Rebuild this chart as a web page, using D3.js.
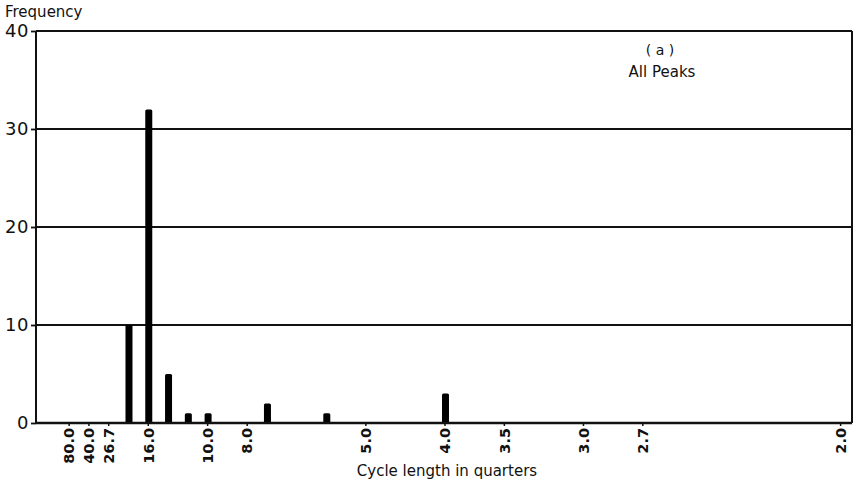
<!DOCTYPE html>
<html>
<head>
<meta charset="utf-8">
<script src="https://cdn.jsdelivr.net/npm/d3@7"></script>
<style>
  html, body { margin: 0; padding: 0; background: #fff; }
  svg { display: block; }
  text { fill: #111; }
</style>
</head>
<body>
<svg id="chart" width="859" height="487"></svg>
<script>
// Spectrum of cycle lengths over an 80-quarter sample: harmonic k => cycle of 80/k quarters
const samplePeriod = 80;
const harmonics = [4, 5, 6, 7, 8, 11, 14, 20];
const frequencies = [10, 32, 5, 1, 1, 2, 1, 3];

const tickHarmonics = [1, 2, 3, 5, 8, 10, 16, 20, 23, 27, 30, 40];
const tickLabels = ["80.0", "40.0", "26.7", "16.0", "10.0", "8.0", "5.0", "4.0", "3.5", "3.0", "2.7", "2.0"];
const yTicks = [0, 10, 20, 30, 40];

const svg = d3.select("#chart");
const plotLeft = 36, plotRight = 852, plotTop = 31, plotBottom = 423;

const x = d3.scaleLinear().domain([-0.65, 40.6]).range([plotLeft, plotRight]);
const y = d3.scaleLinear().domain([0, 40]).range([plotBottom, plotTop]);

// horizontal grid lines (the one at 40 closes the frame)
svg.append("g")
  .selectAll("line")
  .data(yTicks.filter(d => d > 0))
  .join("line")
  .attr("x1", plotLeft).attr("x2", plotRight)
  .attr("y1", d => y(d)).attr("y2", d => y(d))
  .attr("stroke", "#111").attr("stroke-width", 1.8);

// frame sides
svg.append("line").attr("x1", plotLeft).attr("x2", plotLeft).attr("y1", plotTop).attr("y2", plotBottom)
  .attr("stroke", "#111").attr("stroke-width", 2);
svg.append("line").attr("x1", plotRight).attr("x2", plotRight).attr("y1", plotTop).attr("y2", plotBottom)
  .attr("stroke", "#111").attr("stroke-width", 2);

// bars
svg.append("g")
  .selectAll("rect")
  .data(harmonics.map((k, i) => ({ k, v: frequencies[i] })))
  .join("rect")
  .attr("x", d => x(d.k) - 2.5)
  .attr("width", 7)
  .attr("y", d => y(d.v))
  .attr("height", d => y(0) - y(d.v))
  .attr("rx", 1.5)
  .attr("fill", "#000");

// y axis
const yAxis = svg.append("g")
  .attr("transform", `translate(${plotLeft},0)`)
  .call(d3.axisLeft(y).tickValues(yTicks).tickSize(5).tickPadding(2).tickFormat(d3.format("d")));
yAxis.select(".domain").remove();
yAxis.selectAll(".tick line").attr("stroke", "#111").attr("stroke-width", 1.8);
yAxis.selectAll("text")
  .attr("font-family", "DejaVu Sans, sans-serif")
  .attr("font-size", 18)
  .attr("letter-spacing", 0.5)
  .attr("fill", "#111");

// x axis
const xAxis = svg.append("g")
  .attr("transform", `translate(0,${plotBottom})`)
  .call(d3.axisBottom(x).tickValues(tickHarmonics).tickSize(3)
    .tickFormat((d, i) => tickLabels[i]));
xAxis.select(".domain")
  .attr("d", `M${plotLeft},0H${plotRight}`)
  .attr("stroke", "#111").attr("stroke-width", 2.5);
xAxis.selectAll(".tick line").attr("stroke", "#111").attr("stroke-width", 1.5);
xAxis.selectAll("text")
  .attr("font-family", "DejaVu Sans, sans-serif")
  .attr("font-size", 14.5)
  .attr("font-weight", "bold")
  .attr("fill", "#111")
  .attr("transform", "rotate(-90)")
  .attr("text-anchor", "end")
  .attr("x", -5)
  .attr("y", 0)
  .attr("dy", "0.36em");

// titles
svg.append("text")
  .attr("x", 5).attr("y", 17)
  .attr("font-family", "DejaVu Sans, sans-serif")
  .attr("font-size", 15)
  .text("Frequency");

svg.append("text")
  .attr("x", 447).attr("y", 476)
  .attr("text-anchor", "middle")
  .attr("font-family", "DejaVu Sans, sans-serif")
  .attr("font-size", 15)
  .text("Cycle length in quarters");

svg.append("text")
  .attr("x", 660).attr("y", 55)
  .attr("text-anchor", "middle")
  .attr("font-family", "DejaVu Sans, sans-serif")
  .attr("font-size", 14)
  .attr("xml:space", "preserve")
  .text("( a )");

svg.append("text")
  .attr("x", 662).attr("y", 77)
  .attr("text-anchor", "middle")
  .attr("font-family", "DejaVu Sans, sans-serif")
  .attr("font-size", 15)
  .text("All Peaks");
</script>
</body>
</html>
